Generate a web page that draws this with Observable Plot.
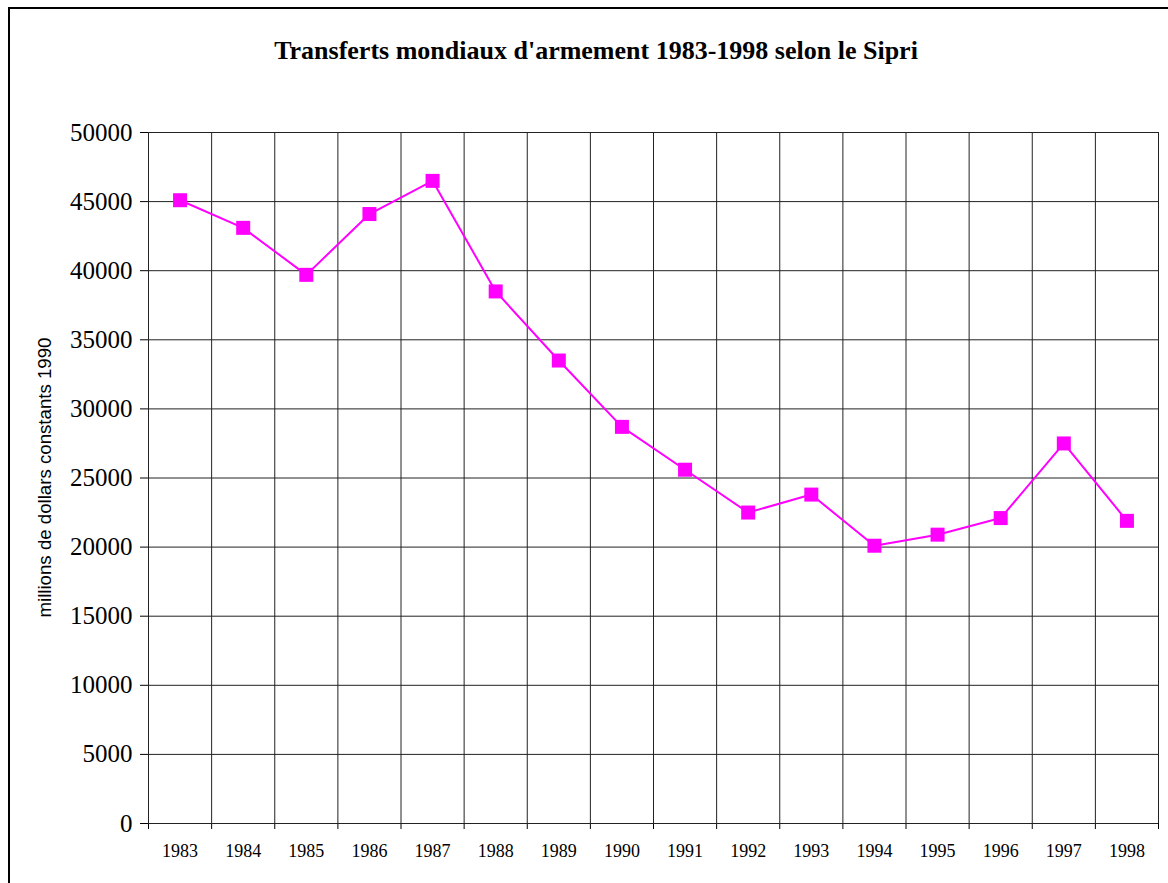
<!DOCTYPE html>
<html>
<head>
<meta charset="utf-8">
<script src="https://cdn.jsdelivr.net/npm/d3@7"></script>
<script src="https://cdn.jsdelivr.net/npm/@observablehq/plot@0.6"></script>
<style>
  html, body { margin: 0; padding: 0; background: #fff; }
  #wrap { position: relative; width: 1168px; height: 883px; overflow: hidden; background: #fff; }
  #frame { position: absolute; left: 8px; top: 7px; width: 1300px; height: 1000px; border: 2px solid #000; box-sizing: border-box; }
  #title { position: absolute; left: 24px; width: 1144px; top: 36px; text-align: center;
           font-family: "Liberation Serif", "Times New Roman", serif; font-weight: bold; font-size: 26px; color: #000; }
  #chart { position: absolute; left: 0; top: 0; }
</style>
</head>
<body>
<div id="wrap">
  <div id="frame"></div>
  <div id="title">Transferts mondiaux d'armement 1983-1998 selon le Sipri</div>
  <div id="chart"></div>
</div>
<script>
const years = [1983, 1984, 1985, 1986, 1987, 1988, 1989, 1990, 1991, 1992, 1993, 1994, 1995, 1996, 1997, 1998];
const transfers = [45100, 43100, 39700, 44100, 46500, 38500, 33500, 28700, 25600, 22500, 23800, 20100, 20900, 22100, 27500, 21900];
const yTicks = [0, 5000, 10000, 15000, 20000, 25000, 30000, 35000, 40000, 45000, 50000];
const yLabel = "millions de dollars constants 1990";

const data = years.map((year, i) => ({year, value: transfers[i]}));
const bounds = years.map(y => y - 0.5).concat([years[years.length - 1] + 0.5]);
const serif = "Liberation Serif";

const chart = Plot.plot({
  width: 1168,
  height: 883,
  marginLeft: 148,
  marginRight: 10,
  marginTop: 132,
  marginBottom: 60,
  style: {background: "transparent", overflow: "visible", fontFamily: serif, color: "#000"},
  x: {type: "linear", domain: [bounds[0], bounds[bounds.length - 1]]},
  y: {type: "linear", domain: [0, 50000]},
  marks: [
    Plot.gridX(bounds, {stroke: "#222", strokeOpacity: 1, strokeWidth: 1}),
    Plot.gridY(yTicks, {stroke: "#222", strokeOpacity: 1, strokeWidth: 1}),
    Plot.axisX(bounds, {tickSize: 6, tickFormat: () => "", label: null}),
    Plot.axisX(years, {tickSize: 0, tickPadding: 21, tickFormat: d => String(d), label: null,
      fontSize: 18, fontFamily: serif}),
    Plot.axisY(yTicks, {tickSize: 8, tickFormat: () => "", label: null}),
    Plot.text(yTicks, {y: d => d, text: d => String(d), frameAnchor: "left", dx: -16,
      textAnchor: "end", fontSize: 25, fontFamily: serif, fill: "#000"}),
    Plot.ruleY([0], {stroke: "#222"}),
    Plot.line(data, {x: "year", y: "value", stroke: "#ff00ff", strokeWidth: 2}),
    Plot.dot(data, {x: "year", y: "value", symbol: "square", r: 7.9, fill: "#ff00ff", stroke: "none"})
  ]
});

const svg = d3.select(chart);

// y-axis title as real text in the svg
svg.append("text")
  .attr("transform", `translate(51, ${(132 + 823) / 2}) rotate(-90)`)
  .attr("text-anchor", "middle")
  .style("font-family", "'Liberation Sans', Arial, sans-serif")
  .attr("font-size", 18)
  .attr("textLength", 280)
  .attr("lengthAdjust", "spacingAndGlyphs")
  .attr("fill", "#000")
  .text(yLabel);

document.getElementById("chart").appendChild(chart);
</script>
</body>
</html>
